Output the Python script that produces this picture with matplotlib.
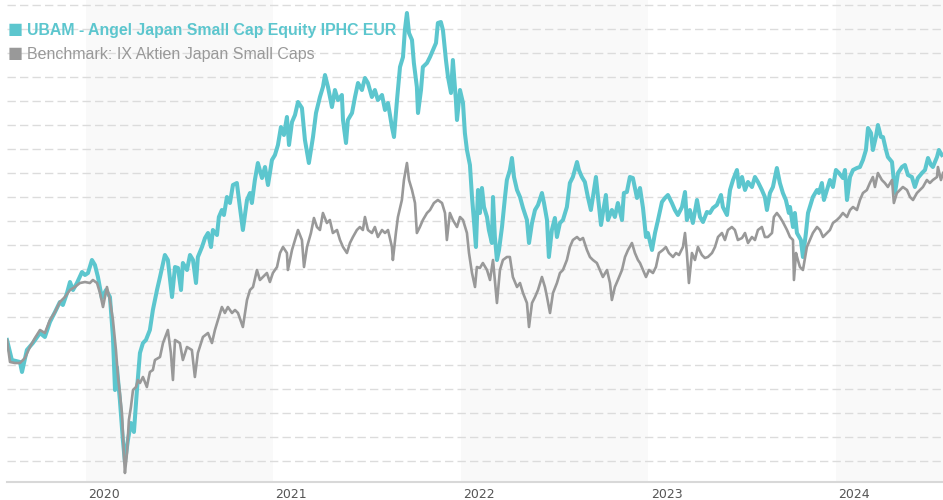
import matplotlib
matplotlib.use("Agg")
import matplotlib.pyplot as plt

plt.rcParams['lines.scale_dashes'] = False

# ---------------- data (decimal year, index level) ----------------
ubam_t = [2019.579, 2019.605, 2019.648, 2019.659, 2019.685, 2019.717, 2019.755, 2019.781, 2019.808, 2019.835,
          2019.861, 2019.877, 2019.899, 2019.915, 2019.931, 2019.952, 2019.979, 2019.995, 2020.011, 2020.032,
          2020.048, 2020.064, 2020.085, 2020.107, 2020.128, 2020.144, 2020.155, 2020.165, 2020.181, 2020.197,
          2020.208, 2020.224, 2020.240, 2020.256, 2020.272, 2020.288, 2020.304, 2020.320, 2020.341, 2020.357,
          2020.379, 2020.395, 2020.421, 2020.437, 2020.459, 2020.475, 2020.491, 2020.507, 2020.517, 2020.539,
          2020.555, 2020.571, 2020.587, 2020.597, 2020.619, 2020.635, 2020.651, 2020.667, 2020.677, 2020.699,
          2020.709, 2020.725, 2020.736, 2020.752, 2020.768, 2020.784, 2020.805, 2020.821, 2020.837, 2020.859,
          2020.875, 2020.885, 2020.901, 2020.917, 2020.939, 2020.955, 2020.971, 2020.992, 2021.008, 2021.024,
          2021.040, 2021.056, 2021.072, 2021.083, 2021.099, 2021.115, 2021.131, 2021.152, 2021.168, 2021.189,
          2021.211, 2021.227, 2021.248, 2021.264, 2021.275, 2021.291, 2021.312, 2021.328, 2021.344, 2021.365,
          2021.371, 2021.387, 2021.397, 2021.419, 2021.435, 2021.451, 2021.472, 2021.488, 2021.504, 2021.525,
          2021.541, 2021.557, 2021.579, 2021.595, 2021.611, 2021.632, 2021.643, 2021.659, 2021.675, 2021.691,
          2021.701, 2021.712, 2021.723, 2021.739, 2021.749, 2021.765, 2021.771, 2021.787, 2021.797, 2021.819,
          2021.835, 2021.851, 2021.867, 2021.877, 2021.893, 2021.904, 2021.920, 2021.931, 2021.947, 2021.957,
          2021.973, 2021.979, 2021.995, 2022.011, 2022.021, 2022.032, 2022.048, 2022.059, 2022.069, 2022.080,
          2022.091, 2022.101, 2022.112, 2022.123, 2022.139, 2022.149, 2022.165, 2022.171, 2022.181, 2022.192,
          2022.203, 2022.219, 2022.235, 2022.245, 2022.261, 2022.272, 2022.283, 2022.299, 2022.315, 2022.331,
          2022.352, 2022.363, 2022.379, 2022.395, 2022.411, 2022.432, 2022.443, 2022.459, 2022.469, 2022.485,
          2022.501, 2022.512, 2022.528, 2022.544, 2022.565, 2022.581, 2022.597, 2022.619, 2022.629, 2022.645,
          2022.661, 2022.677, 2022.693, 2022.704, 2022.720, 2022.731, 2022.747, 2022.757, 2022.773, 2022.784,
          2022.805, 2022.821, 2022.837, 2022.859, 2022.869, 2022.885, 2022.901, 2022.917, 2022.939, 2022.955,
          2022.971, 2022.987, 2022.997, 2023.019, 2023.035, 2023.051, 2023.072, 2023.088, 2023.104, 2023.125,
          2023.141, 2023.157, 2023.179, 2023.195, 2023.205, 2023.221, 2023.237, 2023.259, 2023.275, 2023.291,
          2023.312, 2023.328, 2023.344, 2023.365, 2023.387, 2023.397, 2023.419, 2023.435, 2023.451, 2023.472,
          2023.483, 2023.499, 2023.515, 2023.531, 2023.552, 2023.568, 2023.584, 2023.605, 2023.621, 2023.632,
          2023.648, 2023.664, 2023.685, 2023.701, 2023.717, 2023.733, 2023.749, 2023.755, 2023.771, 2023.781,
          2023.792, 2023.813, 2023.824, 2023.840, 2023.851, 2023.867, 2023.877, 2023.899, 2023.909, 2023.925,
          2023.936, 2023.952, 2023.968, 2023.984, 2024.000, 2024.016, 2024.037, 2024.048, 2024.059, 2024.075,
          2024.091, 2024.112, 2024.128, 2024.144, 2024.160, 2024.171, 2024.187, 2024.197, 2024.213, 2024.224,
          2024.240, 2024.251, 2024.267, 2024.277, 2024.299, 2024.315, 2024.331, 2024.352, 2024.368, 2024.384,
          2024.405, 2024.421, 2024.437, 2024.459, 2024.475, 2024.491, 2024.507, 2024.517, 2024.539, 2024.549,
          2024.565]
ubam_v = [142, 122, 120, 110, 132, 139, 149, 145, 160, 170,
          180, 177, 189, 200, 192, 199, 210, 207, 209, 222,
          217, 205, 184, 192, 185, 145, 92, 115, 82, 42,
          20, 42, 59, 50, 92, 129, 139, 142, 152, 172,
          192, 205, 227, 222, 185, 215, 214, 192, 219, 212,
          227, 222, 199, 225, 235, 244, 249, 235, 252, 247,
          265, 272, 267, 285, 279, 297, 299, 275, 252, 282,
          289, 279, 302, 319, 304, 315, 297, 322, 327, 337,
          355, 347, 365, 337, 360, 367, 380, 374, 342, 319,
          345, 369, 385, 395, 407, 395, 375, 392, 382, 387,
          362, 339, 362, 369, 385, 399, 392, 404, 399, 385,
          392, 382, 387, 372, 379, 355, 345, 382, 415, 425,
          452, 469, 449, 442, 419, 395, 369, 392, 415, 419,
          425, 432, 439, 459, 460, 452, 422, 405, 389, 422,
          382, 362, 392, 379, 349, 332, 317, 285, 262, 235,
          292, 269, 294, 275, 265, 252, 239, 285, 245, 222,
          232, 255, 285, 302, 312, 324, 305, 292, 285, 274,
          262, 239, 259, 272, 277, 289, 279, 262, 225, 252,
          264, 245, 259, 262, 275, 299, 305, 320, 312, 305,
          300, 285, 272, 285, 305, 285, 257, 269, 287, 262,
          272, 265, 279, 262, 289, 290, 305, 304, 284, 294,
          274, 245, 249, 232, 249, 262, 280, 284, 287, 279,
          272, 267, 275, 290, 262, 272, 259, 282, 265, 260,
          270, 269, 274, 277, 287, 275, 267, 292, 302, 312,
          295, 305, 292, 300, 295, 305, 300, 292, 285, 272,
          289, 295, 314, 299, 289, 282, 269, 275, 255, 269,
          249, 242, 225, 249, 269, 279, 285, 292, 289, 299,
          282, 292, 302, 295, 312, 309, 304, 312, 282, 305,
          312, 314, 315, 322, 332, 354, 349, 332, 345, 357,
          345, 345, 332, 325, 320, 289, 309, 315, 317, 307,
          305, 295, 304, 309, 312, 324, 317, 315, 325, 332,
          327]

bench_t = [2019.579, 2019.595, 2019.621, 2019.648, 2019.675, 2019.701, 2019.728, 2019.755, 2019.781, 2019.808,
           2019.835, 2019.861, 2019.888, 2019.915, 2019.941, 2019.968, 2019.995, 2020.021, 2020.037, 2020.059,
           2020.075, 2020.091, 2020.112, 2020.128, 2020.144, 2020.160, 2020.171, 2020.181, 2020.192, 2020.203,
           2020.208, 2020.219, 2020.229, 2020.240, 2020.251, 2020.267, 2020.277, 2020.288, 2020.304, 2020.325,
           2020.341, 2020.357, 2020.368, 2020.395, 2020.411, 2020.437, 2020.453, 2020.464, 2020.475, 2020.501,
           2020.517, 2020.539, 2020.565, 2020.581, 2020.597, 2020.624, 2020.651, 2020.672, 2020.688, 2020.704,
           2020.725, 2020.741, 2020.757, 2020.779, 2020.795, 2020.811, 2020.837, 2020.859, 2020.875, 2020.891,
           2020.912, 2020.928, 2020.944, 2020.965, 2020.981, 2020.997, 2021.019, 2021.035, 2021.051, 2021.072,
           2021.077, 2021.099, 2021.115, 2021.131, 2021.152, 2021.163, 2021.179, 2021.200, 2021.216, 2021.232,
           2021.248, 2021.264, 2021.285, 2021.301, 2021.317, 2021.339, 2021.355, 2021.371, 2021.392, 2021.408,
           2021.424, 2021.445, 2021.461, 2021.477, 2021.488, 2021.504, 2021.525, 2021.541, 2021.557, 2021.579,
           2021.595, 2021.611, 2021.632, 2021.637, 2021.653, 2021.664, 2021.685, 2021.696, 2021.712, 2021.723,
           2021.739, 2021.755, 2021.765, 2021.781, 2021.797, 2021.819, 2021.835, 2021.856, 2021.877, 2021.899,
           2021.915, 2021.925, 2021.941, 2021.957, 2021.979, 2021.995, 2022.011, 2022.032, 2022.043, 2022.059,
           2022.075, 2022.085, 2022.101, 2022.117, 2022.139, 2022.155, 2022.171, 2022.192, 2022.208, 2022.224,
           2022.245, 2022.261, 2022.277, 2022.299, 2022.315, 2022.331, 2022.352, 2022.363, 2022.379, 2022.395,
           2022.411, 2022.432, 2022.448, 2022.459, 2022.475, 2022.491, 2022.512, 2022.528, 2022.544, 2022.565,
           2022.581, 2022.597, 2022.619, 2022.635, 2022.651, 2022.672, 2022.688, 2022.704, 2022.725, 2022.741,
           2022.757, 2022.779, 2022.795, 2022.805, 2022.821, 2022.837, 2022.859, 2022.875, 2022.891, 2022.912,
           2022.928, 2022.944, 2022.955, 2022.971, 2022.987, 2023.003, 2023.024, 2023.040, 2023.056, 2023.077,
           2023.093, 2023.109, 2023.131, 2023.147, 2023.163, 2023.184, 2023.195, 2023.205, 2023.216, 2023.232,
           2023.248, 2023.264, 2023.285, 2023.301, 2023.317, 2023.339, 2023.355, 2023.371, 2023.392, 2023.408,
           2023.424, 2023.445, 2023.461, 2023.477, 2023.499, 2023.515, 2023.531, 2023.552, 2023.568, 2023.584,
           2023.605, 2023.621, 2023.637, 2023.659, 2023.669, 2023.685, 2023.701, 2023.717, 2023.739, 2023.755,
           2023.771, 2023.776, 2023.787, 2023.797, 2023.808, 2023.824, 2023.845, 2023.861, 2023.877, 2023.899,
           2023.915, 2023.931, 2023.952, 2023.968, 2023.984, 2024.005, 2024.021, 2024.037, 2024.059, 2024.075,
           2024.091, 2024.112, 2024.128, 2024.144, 2024.165, 2024.181, 2024.197, 2024.208, 2024.224, 2024.245,
           2024.261, 2024.277, 2024.299, 2024.309, 2024.325, 2024.341, 2024.357, 2024.379, 2024.395, 2024.411,
           2024.432, 2024.448, 2024.464, 2024.485, 2024.501, 2024.517, 2024.539, 2024.544, 2024.560, 2024.571]
bench_v = [142, 120, 119, 119, 124, 135, 144, 152, 149, 162,
           170, 180, 185, 192, 195, 199, 200, 199, 202, 199,
           189, 175, 195, 182, 162, 132, 105, 89, 69, 25,
           9, 29, 62, 75, 92, 95, 102, 99, 105, 95,
           110, 112, 122, 125, 139, 152, 129, 102, 142, 139,
           122, 135, 132, 105, 129, 145, 149, 139, 152, 162,
           175, 169, 175, 169, 172, 169, 155, 182, 192, 195,
           212, 202, 205, 209, 200, 209, 215, 229, 235, 229,
           212, 232, 242, 252, 242, 215, 235, 249, 264, 255,
           252, 269, 259, 262, 249, 252, 242, 235, 229, 239,
           245, 252, 255, 252, 265, 252, 249, 255, 245, 252,
           249, 252, 235, 222, 249, 265, 282, 302, 319, 302,
           292, 279, 249, 255, 262, 269, 272, 279, 282, 279,
           269, 242, 269, 262, 255, 265, 262, 249, 229, 209,
           195, 215, 214, 219, 212, 202, 222, 179, 212, 222,
           225, 225, 205, 195, 199, 189, 179, 155, 179, 185,
           192, 205, 195, 185, 169, 189, 199, 209, 212, 222,
           235, 242, 245, 242, 244, 232, 225, 222, 219, 212,
           205, 212, 199, 182, 195, 202, 212, 225, 232, 239,
           229, 222, 219, 212, 205, 212, 209, 215, 229, 232,
           235, 229, 225, 229, 227, 235, 249, 229, 199, 229,
           222, 235, 227, 224, 225, 229, 235, 245, 249, 242,
           252, 255, 252, 242, 244, 249, 239, 245, 242, 252,
           255, 245, 245, 249, 265, 269, 265, 260, 252, 245,
           242, 202, 229, 222, 215, 212, 235, 242, 249, 255,
           252, 245, 249, 252, 259, 262, 265, 269, 265, 272,
           275, 272, 282, 289, 292, 299, 305, 295, 309, 302,
           299, 295, 302, 279, 289, 292, 295, 292, 285, 282,
           289, 292, 295, 302, 299, 302, 305, 315, 302, 309]

year_labels = ["2020", "2021", "2022", "2023", "2024"]
shaded_years = [2020, 2022, 2024]
series_names = ["UBAM - Angel Japan Small Cap Equity IPHC EUR",
                "Benchmark: IX Aktien Japan Small Caps"]

# ---------------- style ----------------
TEAL = "#5cc6ce"
GREY = "#999999"
x_min, x_max = 2019.579, 2024.571
y_min, y_max = 0, 482
grid_levels = list(range(21, 478, 24))

fig = plt.figure(figsize=(9.43, 5.0), dpi=100)
ax = fig.add_axes([7 / 943, 18 / 500, 936 / 943, 482 / 500])
ax.set_xlim(x_min, x_max)
ax.set_ylim(y_min, y_max)

for yr in shaded_years:
    ax.axvspan(yr, min(yr + 1, x_max), color="#f9f9f9", zorder=0, lw=0)

for g in grid_levels:
    ax.axhline(g, color="#dcdcdc", lw=1.0, ls=(0, (6, 3)), zorder=1)

ax.plot(ubam_t, ubam_v, color=TEAL, lw=2.9, solid_joinstyle="round", zorder=3)
ax.plot(bench_t, bench_v, color=GREY, lw=1.9, solid_joinstyle="round", zorder=4)

for s in ["top", "right", "left"]:
    ax.spines[s].set_visible(False)
ax.spines["bottom"].set_color("#d8d8d8")
ax.spines["bottom"].set_linewidth(1.5)
ax.set_yticks([])

ax.set_xticks([int(l) + 0.096 for l in year_labels])
ax.set_xticklabels(year_labels, fontsize=9, color="#555555",
                   family=["Liberation Sans Narrow", "DejaVu Sans"])
ax.tick_params(axis="x", length=0, pad=4)

# legend
fig.text(8 / 943, 1 - 30 / 500, "\u25a0", color=TEAL, fontsize=11.5, va="center", ha="left",
         family="DejaVu Sans")
fig.text(27 / 943, 1 - 30 / 500, series_names[0], color=TEAL, fontsize=11.4, fontweight="bold",
         va="center", ha="left", family="Liberation Sans")
fig.text(8 / 943, 1 - 54 / 500, "\u25a0", color=GREY, fontsize=11.5, va="center", ha="left",
         family="DejaVu Sans")
fig.text(27 / 943, 1 - 54 / 500, series_names[1], color=GREY, fontsize=11.5,
         va="center", ha="left", family="Liberation Sans")

fig.savefig("out.png", dpi=100, facecolor="white")
